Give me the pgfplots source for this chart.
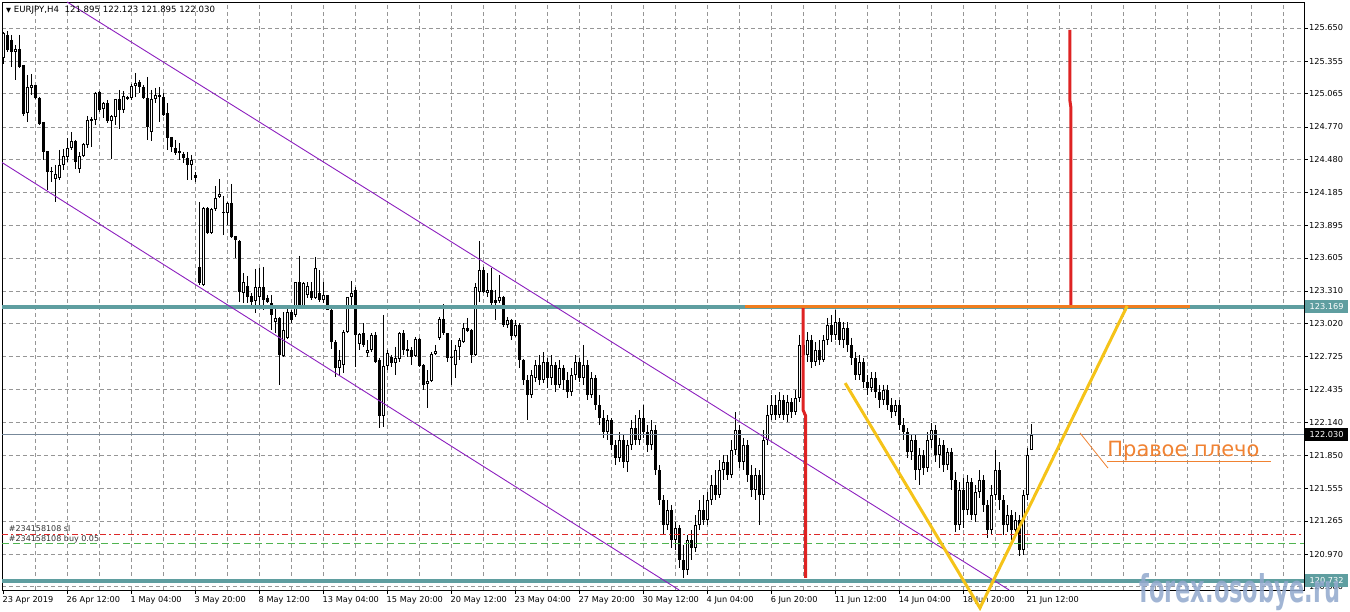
\documentclass[border=0pt]{standalone}
\usepackage{graphicx}
\usepackage{pgfplots}
\pgfplotsset{compat=1.18}
\usepackage{pgfplotstable}
\usepackage{fontspec}
\setmainfont{DejaVu Sans}
\definecolor{tealline}{RGB}{95,158,160}
\definecolor{gridc}{RGB}{150,150,150}
\definecolor{redl}{RGB}{222,35,35}
\definecolor{orangel}{RGB}{240,125,30}
\definecolor{yellowl}{RGB}{245,195,25}
\definecolor{chan}{RGB}{140,30,190}
\definecolor{annot}{RGB}{240,130,50}
\definecolor{wm}{RGB}{145,168,205}
\definecolor{bidc}{RGB}{119,136,153}
\definecolor{slred}{RGB}{220,40,40}
\definecolor{buygreen}{RGB}{80,180,80}

\pgfplotstableread{
i o h l c
0 125.384 125.615 125.330 125.606
1 125.589 125.624 125.437 125.455
2 125.544 125.589 125.304 125.437
3 125.437 125.500 125.188 125.464
4 125.464 125.589 125.295 125.304
5 125.322 125.322 124.868 124.885
6 124.894 125.233 124.814 125.126
7 125.117 125.241 125.055 125.144
8 125.144 125.144 125.019 125.028
9 125.028 125.037 124.787 124.796
10 124.814 124.814 124.476 124.547
11 124.556 124.556 124.209 124.369
12 124.369 124.414 124.280 124.378
13 124.307 124.432 124.102 124.351
14 124.316 124.565 124.298 124.432
15 124.432 124.574 124.387 124.512
16 124.503 124.672 124.458 124.583
17 124.583 124.725 124.565 124.645
18 124.645 124.654 124.396 124.458
19 124.396 124.547 124.360 124.512
20 124.512 124.627 124.503 124.618
21 124.610 124.868 124.583 124.832
22 124.823 124.859 124.592 124.841
23 124.832 125.081 124.787 125.072
24 125.081 125.090 124.903 124.921
25 124.930 124.992 124.850 124.983
26 124.983 125.010 124.805 124.823
27 124.823 124.876 124.485 124.868
28 124.859 125.019 124.787 125.019
29 125.019 125.099 124.752 124.921
30 124.921 125.090 124.894 125.046
31 125.019 125.046 125.010 125.037
32 125.028 125.152 125.010 125.135
33 125.135 125.250 125.037 125.161
34 125.170 125.188 125.072 125.126
35 125.126 125.144 125.019 125.028
36 125.028 125.215 124.654 124.770
37 124.725 125.099 124.645 125.019
38 125.019 125.117 124.983 125.055
39 125.037 125.126 124.814 125.055
40 125.037 125.072 124.868 124.876
41 124.894 124.983 124.565 124.672
42 124.681 124.681 124.547 124.592
43 124.583 124.654 124.521 124.538
44 124.556 124.627 124.476 124.538
45 124.529 124.547 124.449 124.494
46 124.494 124.547 124.298 124.432
47 124.432 124.521 124.298 124.476
48 124.342 124.369 124.280 124.316
49 123.524 124.102 123.363 123.381
50 123.363 124.058 123.354 124.049
51 124.049 124.058 123.817 123.826
52 123.826 124.049 123.817 124.040
53 124.040 124.245 124.022 124.138
54 124.147 124.307 124.138 124.174
55 124.013 124.156 123.809 124.004
56 124.004 124.102 123.898 124.093
57 124.093 124.262 123.782 123.791
58 123.800 123.800 123.604 123.764
59 123.755 123.764 123.212 123.301
60 123.292 123.470 123.203 123.390
61 123.355 123.444 123.203 123.257
62 123.266 123.292 123.177 123.212
63 123.221 123.506 123.114 123.346
64 123.257 123.515 123.168 123.346
65 123.346 123.524 123.141 123.230
66 123.248 123.275 123.203 123.212
67 123.203 123.275 122.963 123.097
68 123.034 123.159 122.936 123.070
69 123.070 123.079 122.474 122.741
70 122.732 123.123 122.723 122.963
71 122.892 123.168 122.883 123.123
72 123.123 123.141 123.025 123.052
73 123.097 123.390 123.079 123.390
74 123.390 123.622 123.150 123.159
75 123.159 123.390 123.150 123.381
76 123.275 123.390 123.248 123.355
77 123.310 123.390 123.230 123.248
78 123.248 123.613 123.239 123.515
79 123.292 123.497 123.212 123.230
80 123.230 123.390 123.203 123.275
81 123.275 123.275 123.141 123.141
82 123.141 123.186 122.794 122.856
83 122.856 122.874 122.545 122.625
84 122.625 122.785 122.562 122.696
85 122.652 122.963 122.580 122.945
86 122.945 123.257 122.936 123.257
87 123.257 123.399 123.159 123.292
88 123.319 123.346 122.634 122.919
89 122.838 122.936 122.785 122.927
90 122.936 123.025 122.812 122.830
91 122.758 122.874 122.723 122.785
92 122.785 122.936 122.767 122.919
93 122.919 122.945 122.669 122.678
94 122.696 122.714 122.091 122.198
95 122.198 123.097 122.100 122.643
96 122.643 122.785 122.607 122.758
97 122.723 122.741 122.634 122.669
98 122.669 122.812 122.562 122.714
99 122.705 122.945 122.678 122.936
100 122.936 122.963 122.741 122.785
101 122.794 122.874 122.723 122.776
102 122.785 122.812 122.652 122.723
103 122.732 122.901 122.723 122.883
104 122.883 122.892 122.634 122.643
105 122.652 122.660 122.429 122.474
106 122.482 122.607 122.269 122.509
107 122.509 122.767 122.500 122.749
108 122.749 122.830 122.741 122.776
109 122.892 123.079 122.874 123.061
110 123.061 123.194 122.919 122.936
111 122.936 122.936 122.678 122.714
112 122.723 122.874 122.474 122.714
113 122.652 122.830 122.536 122.785
114 122.812 122.892 122.696 122.874
115 122.856 123.025 122.847 122.981
116 122.981 123.070 122.945 122.954
117 122.963 122.972 122.669 122.741
118 122.741 123.381 122.732 123.346
119 123.301 123.755 123.212 123.497
120 123.497 123.524 123.292 123.301
121 123.292 123.470 123.257 123.319
122 123.319 123.515 123.186 123.203
123 123.230 123.319 123.052 123.203
124 123.221 123.453 123.203 123.257
125 123.257 123.266 122.990 123.007
126 123.007 123.079 122.981 123.052
127 123.052 123.061 122.874 122.910
128 122.910 123.052 122.901 123.007
129 123.007 123.025 122.625 122.696
130 122.696 122.705 122.474 122.518
131 122.518 122.562 122.162 122.385
132 122.385 122.607 122.358 122.562
133 122.536 122.696 122.500 122.652
134 122.652 122.740 122.474 122.518
135 122.518 122.767 122.491 122.678
136 122.678 122.714 122.447 122.536
137 122.536 122.740 122.474 122.652
138 122.652 122.678 122.411 122.474
139 122.474 122.696 122.447 122.625
140 122.625 122.652 122.429 122.518
141 122.518 122.589 122.358 122.411
142 122.411 122.625 122.376 122.562
143 122.562 122.740 122.518 122.678
144 122.678 122.714 122.500 122.536
145 122.536 122.830 122.474 122.652
146 122.652 122.696 122.340 122.385
147 122.385 122.589 122.358 122.536
148 122.536 122.562 122.251 122.295
149 122.295 122.385 122.118 122.180
150 122.180 122.251 122.002 122.055
151 122.055 122.206 121.984 122.162
152 122.162 122.180 121.895 121.940
153 121.940 121.984 121.762 121.824
154 121.824 122.055 121.788 121.984
155 121.984 122.029 121.735 121.788
156 121.788 121.984 121.699 121.940
157 121.940 122.162 121.895 122.091
158 122.091 122.206 121.940 121.984
159 121.984 122.251 121.940 122.180
160 122.180 122.295 122.002 122.055
161 122.055 122.118 121.877 121.940
162 121.940 122.162 121.895 122.073
163 122.073 122.118 121.673 121.717
164 121.717 121.762 121.405 121.450
165 121.450 121.495 121.139 121.228
166 121.228 121.450 121.183 121.361
167 121.361 121.405 121.023 121.094
168 121.094 121.254 121.005 121.201
169 121.201 121.228 120.845 120.916
170 120.916 121.050 120.757 120.827
171 120.827 121.139 120.783 121.094
172 121.094 121.183 120.916 121.023
173 121.023 121.317 120.987 121.228
174 121.228 121.450 121.183 121.361
175 121.361 121.495 121.228 121.272
176 121.272 121.522 121.228 121.450
177 121.450 121.673 121.405 121.584
178 121.584 121.717 121.450 121.495
179 121.495 121.806 121.468 121.717
180 121.717 121.851 121.628 121.788
181 121.788 121.851 121.628 121.673
182 121.673 121.984 121.646 121.895
183 121.895 122.233 121.851 122.073
184 122.073 122.118 121.735 121.788
185 121.788 122.002 121.717 121.940
186 121.940 121.984 121.610 121.673
187 121.673 121.762 121.477 121.539
188 121.539 121.735 121.450 121.673
189 121.673 121.717 121.228 121.495
190 121.495 122.073 121.450 121.984
191 121.984 122.295 121.940 122.206
192 122.206 122.385 122.162 122.295
193 122.295 122.385 122.162 122.206
194 122.206 122.411 122.180 122.340
195 122.340 122.385 122.162 122.206
196 122.206 122.385 122.144 122.322
197 122.322 122.358 122.180 122.233
198 122.233 122.429 122.206 122.358
199 122.358 122.919 122.322 122.830
200 122.830 123.186 122.696 122.740
201 122.740 122.945 122.678 122.874
202 122.874 122.919 122.625 122.678
203 122.678 122.856 122.643 122.785
204 122.785 122.874 122.652 122.696
205 122.696 122.919 122.678 122.874
206 122.874 123.070 122.830 123.007
207 123.007 123.097 122.856 122.919
208 122.919 123.141 122.874 123.034
209 123.034 123.070 122.830 122.874
210 122.874 123.034 122.803 122.981
211 122.981 123.034 122.767 122.830
212 122.830 122.892 122.652 122.714
213 122.714 122.767 122.518 122.562
214 122.562 122.740 122.518 122.678
215 122.678 122.714 122.447 122.500
216 122.500 122.562 122.385 122.447
217 122.447 122.589 122.411 122.536
218 122.536 122.589 122.358 122.411
219 122.411 122.474 122.269 122.340
220 122.340 122.474 122.295 122.429
221 122.429 122.474 122.251 122.295
222 122.295 122.358 122.180 122.233
223 122.233 122.340 122.198 122.295
224 122.295 122.340 122.073 122.118
225 122.118 122.180 121.984 122.055
226 122.055 122.091 121.824 121.877
227 121.877 122.029 121.806 121.984
228 121.984 122.029 121.628 121.717
229 121.717 121.913 121.584 121.851
230 121.851 121.895 121.673 121.735
231 121.735 122.055 121.699 121.984
232 121.984 122.135 121.913 122.073
233 122.073 122.118 121.788 121.851
234 121.851 122.002 121.735 121.940
235 121.940 121.984 121.699 121.762
236 121.762 121.913 121.717 121.877
237 121.877 121.913 121.539 121.628
238 121.628 121.699 121.165 121.228
239 121.228 121.610 121.183 121.539
240 121.539 121.646 121.201 121.361
241 121.361 121.673 121.317 121.610
242 121.610 121.646 121.272 121.317
243 121.317 121.584 121.254 121.522
244 121.522 121.717 121.468 121.628
245 121.628 121.673 121.344 121.405
246 121.405 121.450 121.112 121.183
247 121.183 121.584 121.139 121.495
248 121.495 121.895 121.450 121.717
249 121.717 121.788 121.361 121.450
250 121.450 121.495 121.139 121.228
251 121.228 121.405 121.165 121.317
252 121.317 121.361 121.094 121.183
253 121.183 121.344 121.112 121.272
254 121.272 121.317 120.952 121.005
255 121.005 121.539 120.961 121.495
256 121.495 121.913 121.450 121.851
257 121.895 122.123 121.895 122.030
}\candles

\begin{document}
\begin{tikzpicture}[x=1pt,y=1pt]
\useasboundingbox (0,0) rectangle (1350,611);
\begin{axis}[
  at={(2pt,21pt)}, anchor=south west, scale only axis,
  width=1302pt, height=588pt,
  xmin=-0.375, xmax=325.1, ymin=120.65, ymax=125.881,
  clip=false,
  axis line style={black, line width=0.9pt},
  xtick pos=bottom, ytick pos=right, yticklabel pos=right,
  tick align=outside,
  major tick length=4pt, minor tick length=0pt,
  every tick/.style={black, line width=0.6pt},
  xtick={0,16,...,256},
  xticklabels={23 Apr 2019,26 Apr 12:00,1 May 04:00,3 May 20:00,8 May 12:00,13 May 04:00,15 May 20:00,20 May 12:00,23 May 04:00,27 May 20:00,30 May 12:00,4 Jun 04:00,6 Jun 20:00,11 Jun 12:00,14 Jun 04:00,18 Jun 20:00,21 Jun 12:00},
  minor xtick={8,16,...,320},
  ytick={125.650,125.355,125.065,124.770,124.480,124.185,123.895,123.605,123.310,123.020,122.725,122.435,122.140,121.850,121.555,121.265,120.970,120.680},
  yticklabels={125.650,125.355,125.065,124.770,124.480,124.185,123.895,123.605,123.310,123.020,122.725,122.435,122.140,121.850,121.555,121.265,120.970,120.680},
  xmajorgrids=false, xminorgrids=true, ymajorgrids=true,
  major grid style={gridc, dash pattern=on 4pt off 3pt, line width=0.6pt},
  minor grid style={gridc, dash pattern=on 4pt off 3pt, line width=0.6pt},
  tick label style={font=\fontsize{8.2}{9}\selectfont, inner sep=0pt},
  xticklabel style={anchor=north west, xshift=-1pt, yshift=-2pt},
  yticklabel style={anchor=west, xshift=1pt},
]
% candle wicks
\addplot[draw=none, mark=none, forget plot,
  error bars/.cd, y dir=minus, y explicit, error mark=none,
  error bar style={draw=black, solid, line width=1pt}]
  table[x=i, y=h, y error minus expr=\thisrow{h}-\thisrow{l}] {\candles};
% candle bodies
\addplot[draw=none, mark=none, forget plot,
  error bars/.cd, y dir=minus, y explicit, error mark=none,
  error bar style={draw=black, solid, line width=3pt}]
  table[x=i, y expr={max(\thisrow{o},\thisrow{c})}, y error minus expr={max(abs(\thisrow{o}-\thisrow{c}),0.009)}] {\candles};
% hollow (bullish) interiors
\addplot[draw=none, mark=none, forget plot,
  restrict expr to domain={\thisrow{c}-\thisrow{o}}{0.019:100},
  error bars/.cd, y dir=minus, y explicit, error mark=none,
  error bar style={draw=white, solid, line width=1pt}]
  table[x=i, y expr={\thisrow{c}-0.009}, y error minus expr={\thisrow{c}-\thisrow{o}-0.018}] {\candles};

% bid line
\addplot[bidc, line width=0.8pt, forget plot] coordinates {(-0.375,122.030) (325.1,122.030)};
% order lines
\addplot[slred, line width=0.8pt, dash pattern=on 6pt off 3pt on 2pt off 3pt, forget plot] coordinates {(-0.375,121.148) (325.1,121.148)};
\addplot[buygreen, line width=0.8pt, dash pattern=on 7pt off 4pt, forget plot] coordinates {(-0.375,121.068) (325.1,121.068)};
% teal levels
\addplot[tealline, line width=3.5pt, forget plot] coordinates {(-0.375,123.169) (325.1,123.169)};
\addplot[tealline, line width=3.5pt, forget plot] coordinates {(-0.375,120.732) (325.1,120.732)};
% channel
\addplot[chan, line width=0.9pt, forget plot] coordinates {(15.9,125.881) (251.4,120.65)};
\addplot[chan, line width=0.9pt, forget plot] coordinates {(-0.375,124.453) (168.9,120.65)};
% red verticals
\addplot[redl, line width=3pt, forget plot] coordinates {(199.9,123.18) (199.9,122.25) (200.5,122.20) (200.5,120.757)};
\addplot[redl, line width=3pt, forget plot] coordinates {(266.6,125.632) (266.6,125.0) (266.8,124.95) (266.8,123.177)};
% orange horizontal
\addplot[orangel, line width=3pt, forget plot] coordinates {(185.4,123.176) (296.6,123.176)};
% yellow V
\addplot[yellowl, line width=3pt, forget plot] coordinates {(210.4,122.491) (244.1,120.490) (280.9,123.177)};
% annotation
\addplot[annot, line width=0.8pt, forget plot] coordinates {(269.1,122.047) (276.1,121.735)};
\addplot[annot, line width=1pt, forget plot] coordinates {(275.9,121.789) (316.9,121.789)};
\node[anchor=base west, inner sep=0pt, text=annot, font=\fontsize{21}{21}\selectfont] at (axis cs:275.9,121.842) {Правое плечо};
% order labels
\node[anchor=west, inner sep=0pt, font=\fontsize{8}{9}\selectfont, text=black!80] at (axis cs:1.3,121.20) {\#234158108 sl};
\node[anchor=west, inner sep=0pt, font=\fontsize{8}{9}\selectfont, text=black!80] at (axis cs:1.3,121.10) {\#234158108 buy 0.05};
% right price boxes
\node[anchor=west, fill=tealline, text=white, inner sep=0pt, minimum width=43pt, minimum height=13pt, font=\fontsize{8.2}{9}\selectfont] at (axis cs:325.35,123.169) {123.169};
\node[anchor=west, fill=black, text=white, inner sep=0pt, minimum width=43pt, minimum height=13pt, font=\fontsize{8.2}{9}\selectfont] at (axis cs:325.35,122.030) {122.030};
\node[anchor=west, fill=tealline, text=white, inner sep=0pt, minimum width=43pt, minimum height=13pt, font=\fontsize{8.2}{9}\selectfont] at (axis cs:325.35,120.732) {120.732};
\end{axis}
% title
\node[anchor=west, inner sep=0pt, font=\fontsize{8.6}{9}\selectfont] at (6,601) {{\fontsize{6.5}{6.5}\selectfont▼}\ EURJPY,H4\ \ 121.895 122.123 121.895 122.030};
% watermark
\node[anchor=base west, inner sep=0pt, text=wm, opacity=0.85] at (1139,9) {\resizebox{201pt}{29pt}{\bfseries forex.osobye.ru}};
\end{tikzpicture}
\end{document}
